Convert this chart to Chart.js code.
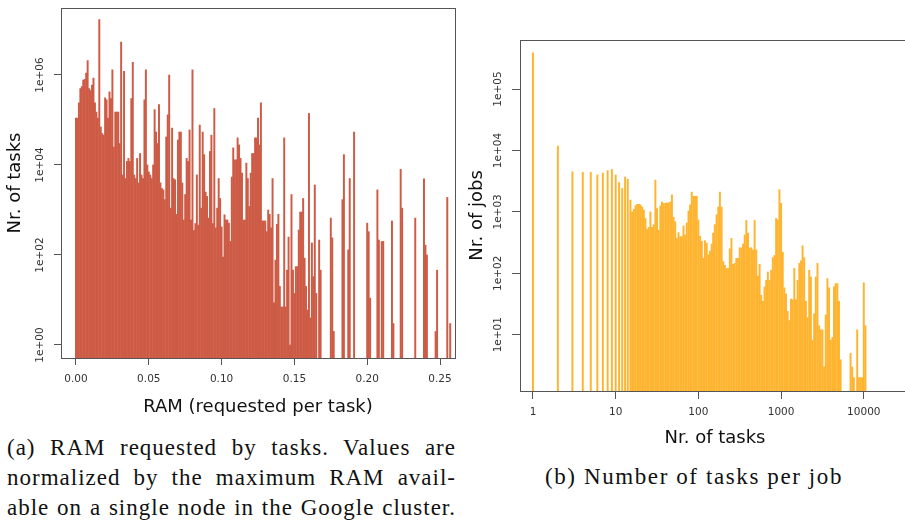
<!DOCTYPE html>
<html>
<head>
<meta charset="utf-8">
<script src="https://cdn.jsdelivr.net/npm/chart.js@4.4.1/dist/chart.umd.min.js"></script>
<style>
  html, body { margin: 0; padding: 0; background: #fff; }
  body { width: 905px; height: 523px; position: relative; overflow: hidden; }
  #ramChart { position: absolute; left: 0; top: 0; }
  #jobsChart { position: absolute; left: 460px; top: 20px; }
  .caption {
    position: absolute;
    font-family: "Liberation Serif", serif;
    font-size: 23px;
    line-height: 30px;
    letter-spacing: 1px;
    color: #111;
  }
  #captionA div { text-align: justify; text-align-last: justify; }
  #captionA { left: 7px; top: 433px; width: 449px; }
  #captionB { left: 538px; top: 462px; width: 312px; letter-spacing: 1.6px; text-align: center; }
</style>
</head>
<body>
<canvas id="ramChart" width="460" height="420"></canvas>
<canvas id="jobsChart" width="460" height="440"></canvas>

<div class="caption" id="captionA">
  <div>(a) RAM requested by tasks. Values are</div>
  <div>normalized by the maximum RAM avail-</div>
  <div>able on a single node in the Google cluster.</div>
</div>
<div class="caption" id="captionB">
  <div>(b) Number of tasks per job</div>
</div>

<script>
// (a) RAM requested per task (normalized) -> number of tasks
const ramValues = [
    0.000, 0.001, 0.002, 0.003, 0.004, 0.005, 0.006, 0.007, 0.008, 0.009,
    0.010, 0.011, 0.012, 0.013, 0.014, 0.015, 0.016, 0.017, 0.018, 0.019,
    0.020, 0.021, 0.022, 0.023, 0.024, 0.025, 0.026, 0.027, 0.028, 0.029,
    0.030, 0.031, 0.032, 0.033, 0.034, 0.035, 0.036, 0.037, 0.038, 0.039,
    0.040, 0.041, 0.042, 0.043, 0.044, 0.045, 0.046, 0.047, 0.048, 0.049,
    0.050, 0.051, 0.052, 0.053, 0.054, 0.055, 0.056, 0.057, 0.058, 0.059,
    0.060, 0.061, 0.062, 0.063, 0.064, 0.065, 0.066, 0.067, 0.068, 0.069,
    0.070, 0.071, 0.072, 0.073, 0.074, 0.075, 0.076, 0.077, 0.078, 0.079,
    0.080, 0.081, 0.082, 0.083, 0.084, 0.085, 0.086, 0.087, 0.088, 0.089,
    0.090, 0.091, 0.092, 0.093, 0.094, 0.095, 0.096, 0.097, 0.098, 0.099,
    0.100, 0.101, 0.102, 0.103, 0.104, 0.105, 0.106, 0.107, 0.108, 0.109,
    0.110, 0.111, 0.112, 0.113, 0.114, 0.115, 0.116, 0.117, 0.118, 0.119,
    0.120, 0.121, 0.122, 0.123, 0.124, 0.125, 0.126, 0.127, 0.128, 0.129,
    0.130, 0.131, 0.132, 0.133, 0.134, 0.135, 0.136, 0.137, 0.138, 0.139,
    0.140, 0.141, 0.142, 0.143, 0.144, 0.145, 0.146, 0.147, 0.148, 0.149,
    0.150, 0.151, 0.152, 0.153, 0.154, 0.155, 0.156, 0.157, 0.158, 0.159,
    0.160, 0.161, 0.162, 0.163, 0.164, 0.165, 0.166, 0.167, 0.168,
    0.175, 0.176, 0.177, 0.183, 0.184, 0.187, 0.188, 0.191,
    0.200, 0.201, 0.202, 0.207, 0.208, 0.210, 0.211, 0.217, 0.218,
    0.223, 0.224, 0.233, 0.239, 0.240, 0.241, 0.247, 0.248, 0.255, 0.257
];
const taskCounts = [
    1.1e5, 1.1e5, 2.4e5, 5e5, 5.5e5, 7.7e5, 8e5, 1.1e6, 2.1e6, 5e5,
    4.5e5, 6e5, 8.5e5, 2.4e5, 1.5e5, 1.1e5, 1.7e7, 7e4, 5e4, 4.6e4,
    3.1e5, 2.8e5, 1.1e5, 4.2e5, 3e5, 1.3e6, 2.5e4, 1.5e5, 1.5e5, 1.5e5,
    3e4, 5.4e6, 6e3, 1.2e6, 5e3, 1.2e4, 1.4e4, 1.2e4, 3e5, 1.9e6,
    6e3, 5e3, 1.4e4, 4e3, 1.8e4, 6e3, 5e3, 2.8e5, 1.3e6, 1e4,
    7e3, 6e3, 5e3, 1e4, 1.7e5, 5.4e4, 3e4, 2.2e5, 4e3, 3e3,
    2.8e3, 1.7e3, 4.2e4, 1.3e5, 1e6, 1.1e3, 6.6e4, 5e3, 4.7e3, 800,
    3.6e4, 5.4e4, 5.4e4, 4e3, 600, 2.2e3, 1.4e4, 1.2e4, 6e4, 600,
    1.3e6, 350, 500, 6e3, 460, 7.7e4, 1.1e3, 5.4e4, 1.7e4, 2.5e3,
    2e3, 660, 2e4, 4.6e4, 500, 1.8e5, 400, 1.1e3, 5e3, 1.8e3,
    420, 90, 780, 600, 600, 510, 200, 5.4e3, 2.4e4, 1.3e4,
    1.3e4, 4e4, 2.8e4, 1.4e4, 6.6e3, 600, 600, 1.1e4, 5e3, 1.2e3,
    6.6e3, 1.8e4, 1.8e4, 4e4, 4e4, 1.1e5, 2.8e4, 2.4e5, 570, 570,
    570, 330, 1e3, 800, 400, 5e3, 8.6, 77, 480, 800,
    20, 7, 7, 4e4, 7, 46, 250, 1, 2.2e3, 46,
    14, 55, 55, 360, 900, 900, 1.8e3, 85, 20, 6,
    1.4e5, 4, 185, 33, 3.6e3, 14, null, 215, 46,
    660, 240, 2, 1.7e3, 1.7e4, 130, 5e3, 5.4e4,
    510, 330, 11, 2.8e3, 215, 200, 200, 570, 3,
    8e3, 1.1e3, 660, 4.9e3, 165, 100, 2, 46, 1.9e3, 3
];
const ramTicks = [0, 0.05, 0.10, 0.15, 0.20, 0.25];
const ramTickLabels = ["0.00", "0.05", "0.10", "0.15", "0.20", "0.25"];
const taskTicks = [1, 1e2, 1e4, 1e6];
const taskTickLabels = ["1e+00", "1e+02", "1e+04", "1e+06"];

// (b) number of tasks per job -> number of jobs
const jobSizes = [
    1, 2, 3, 4, 5, 6, 7, 8, 9, 10, 11, 12, 13, 14,
    15.1, 15.8, 16.6, 17.4, 18.2, 19.1, 20.0, 20.9, 21.9, 22.9,
    24.0, 25.1, 26.3, 27.5, 28.8, 30.2, 31.6, 33.1, 34.7, 36.3,
    38.0, 39.8, 41.7, 43.7, 45.7, 47.9, 50.1, 52.5, 55.0, 57.5,
    60.3, 63.1, 66.1, 69.2, 72.4, 75.9, 79.4, 83.2, 87.1, 91.2,
    95.5, 100, 105, 110, 115, 120, 126, 132, 138, 145,
    151, 158, 166, 174, 182, 191, 200, 209, 219, 229,
    240, 251, 263, 275, 288, 302, 316, 331, 347, 363,
    380, 398, 417, 437, 457, 479, 501, 525, 550, 575,
    603, 631, 661, 692, 724, 759, 794, 832, 871, 912,
    955, 1000, 1047, 1096, 1148, 1202, 1259, 1318, 1380, 1445,
    1514, 1585, 1660, 1738, 1820, 1905, 1995, 2089, 2188, 2291,
    2399, 2512, 2630, 2754, 2884, 3020, 3162, 3311, 3467, 3631,
    3802, 3981, 4169, 4365, 4571, 4786, 5012, 5248,
    6918, 7244, 7586, 8318, 8710, 9120, 9550, 10000, 10471
];
const jobCounts = [
    3.9e5, 1.18e4, 4.5e3, 4.4e3, 4.4e3, 4e3, 4.3e3, 4.7e3, 4.9e3, 4e3, 3e3, 2.4e3, 3.7e3, 3.4e3,
    1.56e3, 1e3, 1.1e3, 1.26e3, 1.33e3, 1.33e3, 1.3e3, 1.2e3, 1.07e3, 780,
    520, 560, 1e3, 560, 620, 3.3e3, 1.13e3, 505, 1.25e3, 1.45e3,
    1.38e3, 1.38e3, 1.4e3, 1.4e3, 1.45e3, 1.9e3, 820, 690, 370, 460,
    395, 395, 590, 420, 660, 1.03e3, 1.3e3, 2.1e3, 1.8e3, 1.8e3,
    1.8e3, 740, 400, 330, 175, 340, 310, 200, 230, 300,
    450, 620, 900, 1.2e3, 2.1e3, 1.2e3, 155, 135, 120, 120,
    250, 370, 140, 145, 175, 175, 260, 260, 300, 420,
    725, 450, 260, 260, 240, 725, 240, 90, 140, 44,
    35, 60, 77, 105, 77, 112, 180, 195, 780, 740,
    2.3e3, 1.38e3, 220, 58, 46, 24, 17, 38, 37, 120,
    37, 77, 145, 160, 280, 180, 35, 19, 112, 87,
    8.2, 22, 87, 145, 14, 12, 12, 3, 21, 82,
    58, 8.2, 9, 60, 68, 68, 35, 3.9,
    5, 3, 2, 12, 2, 2, 2, 70, 14
];
const sizeTicks = [1, 10, 100, 1000, 10000];
const sizeTickLabels = ["1", "10", "100", "1000", "10000"];
const jobTicks = [1e1, 1e2, 1e3, 1e4, 1e5];
const jobTickLabels = ["1e+01", "1e+02", "1e+03", "1e+04", "1e+05"];

const AXIS_COLOR = "#555";
const TICK_COLOR = "#333";
const TICK_FONT = { family: "DejaVu Sans", size: 10.5 };
const TITLE_FONT = { family: "DejaVu Sans", size: 18 };

// R-like frame round the plot and y tick labels written along the axis
const rFramePlugin = {
    id: "rFrame",
    afterDraw(chart, args, opts) {
        const { ctx, chartArea: a } = chart;
        const yScale = chart.scales.y;
        ctx.save();
        ctx.strokeStyle = AXIS_COLOR;
        ctx.lineWidth = 1;
        ctx.strokeRect(Math.round(a.left) + 0.5, Math.round(a.top) + 0.5,
            Math.round(a.right - a.left), Math.round(a.bottom - a.top));

        ctx.fillStyle = TICK_COLOR;
        ctx.font = `${TICK_FONT.size}px "${TICK_FONT.family}"`;
        ctx.textAlign = "center";
        ctx.textBaseline = "middle";
        opts.ticks.forEach((v, i) => {
            ctx.save();
            ctx.translate(opts.labelX, yScale.getPixelForValue(v));
            ctx.rotate(-Math.PI / 2);
            ctx.fillText(opts.labels[i], 0, 0);
            ctx.restore();
        });
        ctx.restore();
    }
};

function axisLines(tickLength) {
    return {
        grid: { display: true, drawOnChartArea: false, drawTicks: true, tickLength: tickLength, color: AXIS_COLOR, offset: false },
        border: { display: true, color: AXIS_COLOR }
    };
}

function buildHistogram(canvasId, cfg) {
    const ctx = document.getElementById(canvasId);
    return new Chart(ctx, {
        type: "bar",
        data: {
            datasets: [{
                data: cfg.xs.map((x, i) => ({ x: x, y: cfg.ys[i] })),
                backgroundColor: cfg.color,
                borderWidth: 0,
                barThickness: cfg.barThickness
            }]
        },
        options: {
            responsive: false,
            animation: false,
            events: [],
            layout: { padding: cfg.padding },
            plugins: {
                legend: { display: false },
                tooltip: { enabled: false },
                rFrame: { ticks: cfg.yTicks, labels: cfg.yLabels, labelX: cfg.yLabelX }
            },
            scales: {
                x: {
                    type: cfg.xType,
                    min: cfg.xMin,
                    max: cfg.xMax,
                    offset: false,
                    afterBuildTicks: s => { s.ticks = cfg.xTicks.map(v => ({ value: v })); },
                    afterFit: s => { s.height = cfg.xHeight; },
                    ...axisLines(cfg.tickLength),
                    ticks: {
                        autoSkip: false, maxRotation: 0, minRotation: 0,
                        padding: cfg.xTickPadding,
                        color: TICK_COLOR, font: TICK_FONT,
                        callback: (v, i) => cfg.xLabels[i]
                    },
                    title: {
                        display: true, text: cfg.xTitle, color: "#111", font: TITLE_FONT,
                        padding: { top: 0, bottom: cfg.xTitlePad }
                    }
                },
                y: {
                    type: "logarithmic",
                    min: cfg.yMin,
                    max: cfg.yMax,
                    afterBuildTicks: s => { s.ticks = cfg.yTicks.map(v => ({ value: v })); },
                    afterFit: s => { s.width = cfg.yWidth; },
                    ...axisLines(cfg.tickLength),
                    ticks: { display: false },
                    title: {
                        display: true, text: cfg.yTitle, color: "#111", font: TITLE_FONT,
                        padding: { top: cfg.yTitlePad, bottom: 0 }
                    }
                }
            }
        },
        plugins: [rFramePlugin]
    });
}

buildHistogram("ramChart", {
    xs: ramValues, ys: taskCounts,
    color: "#cd5b45", barThickness: 1.3,
    padding: { left: 0, top: 8, right: 5, bottom: 0 },
    xType: "linear", xMin: -0.0103, xMax: 0.2603,
    xTicks: ramTicks, xLabels: ramTickLabels, xHeight: 62, xTickPadding: 8,
    xTitle: "RAM (requested per task)", xTitlePad: 2,
    yMin: 0.514, yMax: 3.08e7,
    yTicks: taskTicks, yLabels: taskTickLabels, yWidth: 61, yLabelX: 40,
    yTitle: "Nr. of tasks", yTitlePad: 5,
    tickLength: 7
});

buildHistogram("jobsChart", {
    xs: jobSizes, ys: jobCounts,
    color: "#ffb430", barThickness: 1.3,
    padding: { left: 0, top: 20, right: 10, bottom: 0 },
    xType: "logarithmic", xMin: 0.697, xMax: 36200,
    xTicks: sizeTicks, xLabels: sizeTickLabels, xHeight: 69, xTickPadding: 7,
    xTitle: "Nr. of tasks", xTitlePad: 11,
    yMin: 1.21, yMax: 6.3e5,
    yTicks: jobTicks, yLabels: jobTickLabels, yWidth: 60, yLabelX: 38,
    yTitle: "Nr. of jobs", yTitlePad: 7,
    tickLength: 8
});
</script>
</body>
</html>
